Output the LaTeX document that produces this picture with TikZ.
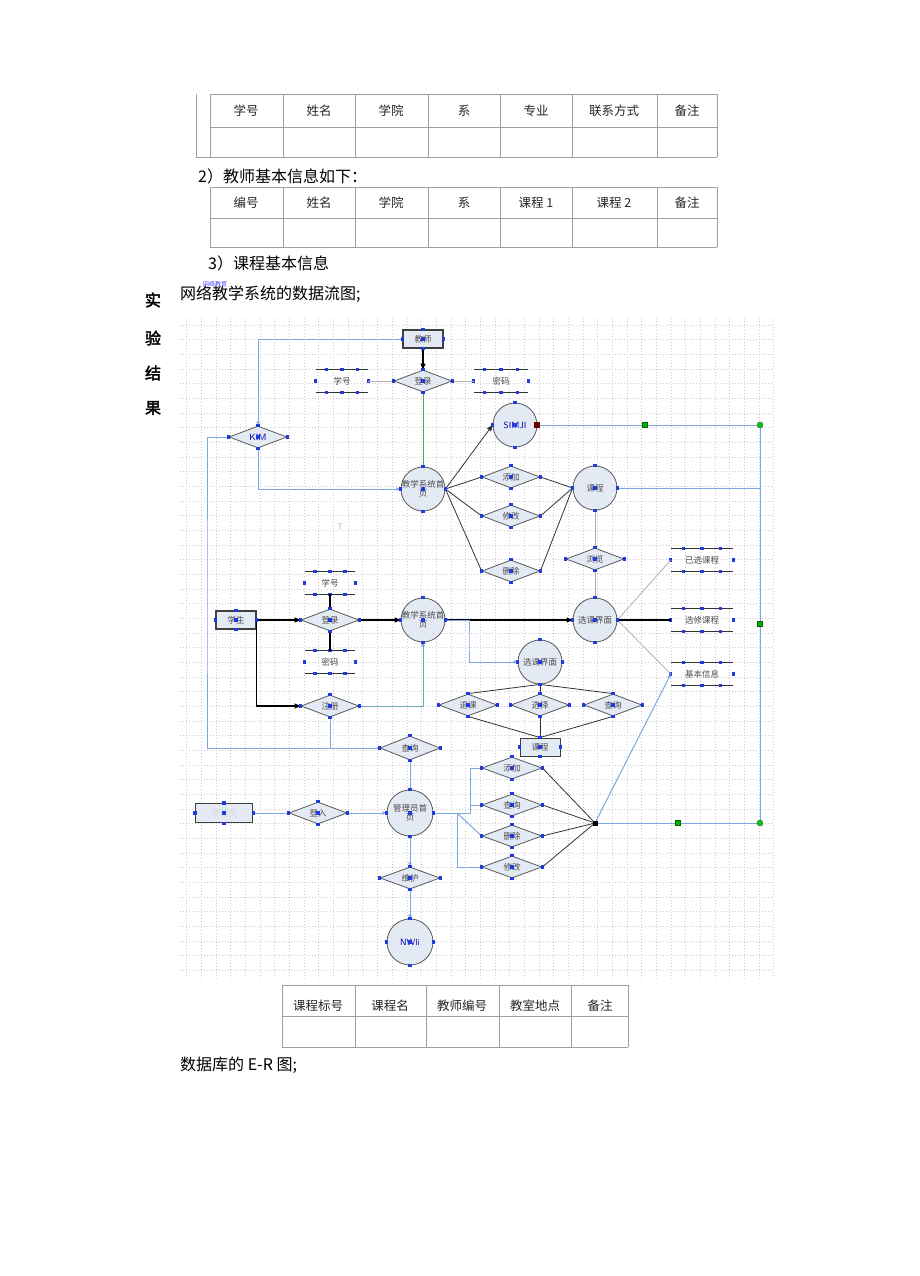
\documentclass[tikz,border=0pt]{standalone}
\usepackage{fontspec}
\setmainfont{Liberation Serif}
\newfontfamily\cjk{Noto Sans CJK SC}
\newfontfamily\cjkb[FakeBold=2.5]{Noto Sans CJK SC}
\usetikzlibrary{shapes.geometric,arrows.meta,calc}
\definecolor{nfill}{HTML}{E4EAF3}
\definecolor{bline}{HTML}{7EA6E0}
\definecolor{gline}{HTML}{5AA05A}
\definecolor{mkblue}{HTML}{1F3BE0}
\tikzset{
  gridc/.style={draw=gray!40, line width=0.5pt, dash pattern=on 1pt off 2pt},
  tline/.style={draw=gray!75, line width=0.8pt},
  th/.style={font=\cjk\fontsize{12.5}{13}\selectfont, text=black!85},
  circ/.style={circle, draw=gray!70!black, fill=nfill, minimum size=44pt, inner sep=0pt, line width=0.8pt},
  dia/.style={diamond, draw=gray!70!black, fill=nfill, minimum width=58pt, minimum height=22pt, inner sep=0pt, line width=0.8pt},
  boxn/.style={rectangle, draw=gray!50!black, fill=nfill, minimum width=40pt, minimum height=18pt, inner sep=0pt, line width=1.2pt},
  lbl/.style={font=\cjk\fontsize{8.5}{9}\selectfont, text=gray!60!black, align=center, inner sep=0pt},
  blbl/.style={font=\sffamily\fontsize{9}{9}\selectfont, text=blue!70!black, inner sep=0pt},
  stn/.style={rectangle, draw=none, inner sep=0pt, font=\cjk\fontsize{8.5}{9}\selectfont, text=gray!60!black},
  bl/.style={draw=bline, line width=1pt},
  gl/.style={draw=gline, line width=0.8pt},
  dk/.style={draw=gray!40!black, line width=0.8pt},
  bk/.style={draw=black, line width=1.1pt},
  arr/.style={-{Triangle[length=6pt,width=5pt]}},
  barr/.style={-{Latex[length=4pt,width=4pt]}},
  mkr/.style={rectangle, fill=mkblue, minimum size=3.2pt, inner sep=0pt},
  gsq/.style={rectangle, fill=green!70!black, draw=green!40!black, minimum size=5pt, inner sep=0pt},
  gci/.style={circle, fill=green!80!black, draw=black!70, minimum size=6pt, inner sep=0pt}
}
\newcommand\mks[1]{\foreach \a in {north,south,east,west,center}{\node[mkr] at (#1.\a) {};}}
\newcommand\dstore[5]{% name, x, y, halfwidth, text
  \node[stn, minimum width=2*#4, minimum height=22pt] (#1) at (#2,#3) {#5};
  \draw[draw=gray!40!black, line width=0.9pt] (#1.north west) -- (#1.north east);
  \draw[draw=gray!40!black, line width=0.9pt] (#1.south west) -- (#1.south east);
  \foreach \f in {-0.3,0,0.3}{
    \node[mkr] at ($(#1.north)+(\f*2*#4,0)$) {};
    \node[mkr] at ($(#1.south)+(\f*2*#4,0)$) {};}
  \node[mkr] at (#1.west) {};
  \node[mkr] at (#1.east) {};}
\begin{document}
\begin{tikzpicture}[x=1pt,y=-1pt]
\useasboundingbox (0,0) rectangle (920,1276);
\fill[white] (0,0) rectangle (920,1276);

% ---------- table 1 ----------
\draw[tline] (210,94) -- (717,94);
\draw[tline] (196,157) -- (717,157);
\draw[tline] (210,127) -- (717,127);
\draw[tline] (196,94) -- (196,157);
\foreach \x in {210,283,355,428,500,572,657,717} \draw[tline] (\x,94) -- (\x,157);
\foreach \x/\t in {246/学号,319/姓名,391/学院,464/系,536/专业,614/联系方式,687/备注}
  \node[th] at (\x,111) {\t};

\node[anchor=west, font=\cjk\fontsize{16}{16}\selectfont, inner sep=0pt] at (198,176) {2）教师基本信息如下：};

% ---------- table 2 ----------
\draw[tline] (210,187) -- (717,187);
\draw[tline] (210,218) -- (717,218);
\draw[tline] (210,247) -- (717,247);
\foreach \x in {210,283,355,428,500,572,657,717} \draw[tline] (\x,187) -- (\x,247);
\foreach \x/\t in {246/编号,319/姓名,391/学院,464/系,536/课程 1,614/课程 2,687/备注}
  \node[th] at (\x,203) {\t};

\node[anchor=west, font=\cjk\fontsize{16}{16}\selectfont, inner sep=0pt] at (208,263) {3）课程基本信息};
\node[anchor=west, font=\cjk\fontsize{16}{16}\selectfont, inner sep=0pt] at (180,294) {网络教学系统的数据流图;};
\node[anchor=west, font=\cjk\fontsize{6}{6}\selectfont, text=blue!70, inner sep=0pt] at (203,284) {网络教育};
\foreach \y/\t in {300/实,338/验,373/结,408/果}
  \node[font=\cjkb\fontsize{16}{16}\selectfont, inner sep=0pt] at (153,\y) {\t};

% ---------- grid ----------
\foreach \i in {0,...,40} \draw[gridc] (186.7+\i*14.67,318) -- (186.7+\i*14.67,980);
\foreach \j in {0,...,44} \draw[gridc] (180,324.9+\j*14.67) -- (772,324.9+\j*14.67);

% ---------- coordinates ----------
\coordinate (R1) at (760,425);
\coordinate (R2) at (760,488);
\coordinate (R3) at (760,823);
\coordinate (G1) at (645,425);
\coordinate (G2) at (760,624);
\coordinate (G3) at (678,823);
\coordinate (J) at (595,823);
\coordinate (L1) at (207,600);
\coordinate (M1) at (469,640);
\coordinate (M2) at (470,790);
\coordinate (M3) at (457,840);

% ---------- nodes: top ----------
\node[boxn] (T1) at (423,339) {};
\node[dia] (D1) at (423,381) {};
\dstore{S1}{342}{381}{26pt}{学号}
\dstore{S2}{501}{381}{27pt}{密码}
\node[circ] (C1) at (423,489) {};
\node[dia] (K) at (258,437) {};
\node[circ] (C2) at (515,425) {};
\node[dia] (D2) at (511,477) {};
\node[dia] (D3) at (511,516) {};
\node[dia] (D4) at (511,571) {};
\node[circ] (C3) at (595,488) {};
\node[dia] (D5) at (595,559) {};
\node[circ] (C4) at (595,620) {};
\dstore{S3}{702}{560}{31pt}{已选课程}
\dstore{S4}{702}{620}{31pt}{选修课程}
\dstore{S5}{702}{674}{31pt}{基本信息}

% ---------- nodes: middle ----------
\node[boxn] (B2) at (236,620) {};
\node[dia] (D6) at (330,620) {};
\dstore{S6}{330}{583}{25pt}{学号}
\dstore{S7}{330}{662}{25pt}{密码}
\node[circ] (C5) at (423,620) {};
\node[dia] (D7) at (330,706) {};
\node[circ] (C6) at (540,662) {};
\node[dia] (D8) at (468,705) {};
\node[dia] (D9) at (540,705) {};
\node[dia] (D10) at (613,705) {};
\node[boxn, line width=0.9pt] (B3) at (540,747) {};

% ---------- nodes: bottom ----------
\node[dia, minimum width=60pt, minimum height=24pt] (D11) at (410,748) {};
\node[boxn, minimum width=57pt, minimum height=19pt] (B4) at (224,813) {};
\node[dia] (D12) at (318,813) {};
\node[circ, minimum size=46pt] (C7) at (410,813) {};
\node[dia, minimum width=60pt] (D13) at (410,878) {};
\node[circ, minimum size=46pt] (C8) at (410,942) {};
\node[dia, minimum width=60pt] (D14) at (512,768) {};
\node[dia, minimum width=60pt] (D15) at (512,805) {};
\node[dia, minimum width=60pt] (D16) at (512,836) {};
\node[dia, minimum width=60pt] (D17) at (512,867) {};

% ---------- connectors ----------
\draw[bk,arr] (T1.south) -- (D1.north);
\draw[dk,draw=gray!60] (S1.east) -- (D1.west);
\draw[dk,draw=gray!60] (D1.east) -- (S2.west);
\draw[gl] (D1.south) -- (C1.north);
\draw[bl,barr] (T1.west) -| (K.north);
\draw[bl,barr] (K.south) |- (C1.west);
\draw[bl] (K.west) -| (L1) |- (D11.west);
\draw[bl] (D7.south) -- (D7.south |- D11.west);
\draw[dk,arr] (C1.east) -- (C2.west);
\draw[bl] (C2.east) -- (R1) -- (R3);
\draw[bl] (C3.east) -- (R2);
\draw[bl] (J) -- (R3);
\foreach \d in {D2,D3,D4}{
  \draw[dk] (C1.east) -- (\d.west);
  \draw[dk] (\d.east) -- (C3.west);}
\draw[dk,draw=gray!60] (C3.south) -- (D5.north);
\draw[dk,draw=gray!60] (D5.south) -- (C4.north);
\draw[dk,draw=gray!60] (C4.east) -- (S3.west);
\draw[bk] (C4.east) -- (S4.west);
\draw[dk,draw=gray!60] (C4.east) -- (S5.west);
\draw[bk,arr] (C5.east) -- (C4.west);
\draw[bk,arr] (B2.east) -- (D6.west);
\draw[bk,arr] (D6.east) -- (C5.west);
\draw[bk] (S6.south) -- (D6.north);
\draw[bk] (D6.south) -- (S7.north);
\draw[bk,arr] (B2.east) |- (D7.west);
\draw[bl,draw=bline!70!gline,barr] (D7.east) -| (C5.south);
\draw[bl,barr] (C5.east) -| (M1) |- (C6.west);
\foreach \d in {D8,D9,D10}{
  \draw[dk] (C6.south) -- (\d.north);
  \draw[dk] (\d.south) -- (B3.north);}
\draw[bl] (B4.east) -- (D12.west);
\draw[bl,barr] (D12.east) -- (C7.west);
\draw[bl] (C7.north) -- (D11.south);
\draw[bl,barr] (C7.south) -- (D13.north);
\draw[bl,barr] (D13.south) -- (C8.north);
\draw[bl] (C7.east) -- (C7.east -| M2) |- (D14.west);
\draw[bl] (C7.east -| M2) |- (D15.west);
\draw[bl] (C7.east -| M3) |- (D17.west);
\draw[bl] (C7.east -| M3 |- D16.west) -- (D16.west);
\foreach \d in {D14,D15,D16,D17} \draw[dk] (\d.east) -- (J);
\draw[bl,barr] (J) -- (S5.west);

% ---------- labels ----------
\node[lbl] at (T1) {教师};
\node[lbl] at (D1) {登录};
\node[blbl] at (K) {KIM};
\node[lbl] at (C1) {教学系统首\\页};
\node[blbl] at (C2) {SIMJI};
\node[lbl] at (D2) {添加};
\node[lbl] at (D3) {修改};
\node[lbl] at (D4) {删除};
\node[lbl] at (C3) {课程};
\node[lbl] at (D5) {浏览};
\node[lbl] at (C4) {选课界面};
\node[lbl] at (B2) {学生};
\node[lbl] at (D6) {登录};
\node[lbl] at (C5) {教学系统首\\页};
\node[lbl] at (D7) {注册};
\node[lbl] at (C6) {选课界面};
\node[lbl] at (D8) {退课};
\node[lbl] at (D9) {选择};
\node[lbl] at (D10) {查询};
\node[lbl] at (B3) {课程};
\node[lbl] at (D11) {查询};
\node[lbl, text=gray!30] at (B4) {管理员};
\node[lbl] at (D12) {登入};
\node[lbl] at (C7) {管理员首\\页};
\node[lbl] at (D13) {维护};
\node[blbl] at (C8) {NWli};
\node[lbl] at (D14) {添加};
\node[lbl] at (D15) {查询};
\node[lbl] at (D16) {删除};
\node[lbl] at (D17) {修改};
\node[font=\sffamily\fontsize{8}{8}\selectfont, text=gray!60] at (340,527) {T};

% ---------- markers ----------
\foreach \n in {T1,D1,C1,K,C2,D2,D3,D4,C3,D5,C4,B2,D6,C5,D7,C6,D8,D9,D10,B3,D11,B4,D12,C7,D13,C8,D14,D15,D16,D17} {\mks{\n}}
\node[gsq] at (G1) {};
\node[gsq] at (G2) {};
\node[gsq] at (G3) {};
\node[gci] at (R1) {};
\node[gci] at (R3) {};
\node[rectangle, fill=black, minimum size=5pt, inner sep=0pt] at (J) {};
\node[rectangle, fill=red!40!black, minimum size=6pt, inner sep=0pt] at (C2.east) {};

% ---------- table 3 ----------
\draw[tline] (282,985) -- (628,985);
\draw[tline] (282,1016) -- (628,1016);
\draw[tline] (282,1047) -- (628,1047);
\foreach \x in {282,355,426,499,571,628} \draw[tline] (\x,985) -- (\x,1047);
\foreach \x/\t in {318/课程标号,390/课程名,462/教师编号,535/教室地点,600/备注}
  \node[th] at (\x,1006) {\t};
\node[anchor=west, font=\cjk\fontsize{16}{16}\selectfont, inner sep=0pt] at (180,1065) {数据库的 E-R 图;};
\end{tikzpicture}
\end{document}
